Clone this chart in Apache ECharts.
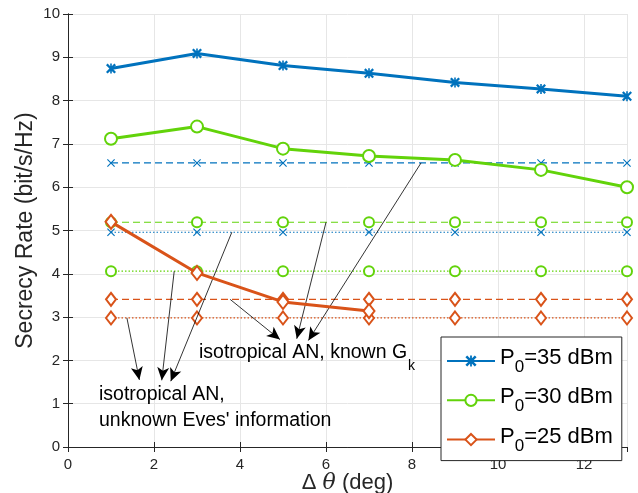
<!DOCTYPE html>
<html>
<head>
<meta charset="utf-8">
<script src="https://cdn.jsdelivr.net/npm/echarts@6/dist/echarts.min.js"></script>
<style>
html,body{margin:0;padding:0;background:#fff;}
#c{width:638px;height:493px;}
</style>
</head>
<body>
<div id="c"></div>
<script>
// ---- data ----
const xValues = [1, 3, 5, 7, 9, 11, 13];
const xValuesP25 = [1, 3, 5, 7];
const p35Proposed = [8.74, 9.09, 8.81, 8.63, 8.42, 8.27, 8.10];
const p30Proposed = [7.12, 7.40, 6.89, 6.72, 6.63, 6.40, 6.00];
const p25Proposed = [5.20, 4.02, 3.35, 3.14];
const p35KnownG = [6.56, 6.56, 6.56, 6.56, 6.56, 6.56, 6.56];
const p30KnownG = [5.19, 5.19, 5.19, 5.19, 5.19, 5.19, 5.19];
const p25KnownG = [3.41, 3.41, 3.41, 3.41, 3.41, 3.41, 3.41];
const p35Unknown = [4.96, 4.96, 4.96, 4.96, 4.96, 4.96, 4.96];
const p30Unknown = [4.06, 4.06, 4.06, 4.06, 4.06, 4.06, 4.06];
const p25Unknown = [2.98, 2.98, 2.98, 2.98, 2.98, 2.98, 2.98];
const legendNames = ['P0=35 dBm', 'P0=30 dBm', 'P0=25 dBm'];
const xTicks = [0, 2, 4, 6, 8, 10, 12];
const yTicks = [0, 1, 2, 3, 4, 5, 6, 7, 8, 9, 10];
// annotation arrows in data coordinates: [from, to]
const arrowsUnknown = [
  [[1.37, 2.98], [1.66, 1.55]],
  [[2.47, 4.06], [2.18, 1.54]],
  [[3.81, 4.96], [2.39, 1.52]]
];
const arrowsKnown = [
  [[3.77, 3.41], [4.93, 2.48]],
  [[6.00, 5.19], [5.32, 2.50]],
  [[8.21, 6.56], [5.59, 2.46]]
];
const labelKnown = 'isotropical AN, known G';
const labelKnownSub = 'k';
const labelUnknown1 = 'isotropical AN,';
const labelUnknown2 = "unknown Eves' information";

// ---- styles ----
const BLUE = '#0072BD', GREEN = '#62D30A', ORANGE = '#D95319';
const FONT = 'Liberation Sans, Arial, Helvetica, sans-serif';
const xMark = 'path://M0,1L1,0L5,4L9,0L10,1L6,5L10,9L9,10L5,6L1,10L0,9L4,5Z';
const starMark = 'path://M0,1.6L1.6,0L5,3.4L8.4,0L10,1.6L6.6,5L10,8.4L8.4,10L5,6.6L1.6,10L0,8.4L3.4,5Z M4.2,0H5.8V10H4.2Z';

function pairs(xs, ys) { return ys.map((y, i) => [xs[i], y]); }

const chart = echarts.init(document.getElementById('c'), null, {renderer: 'canvas'});

function solid(name, ys, xs, color, symbol, size) {
  const empty = symbol.indexOf('empty') === 0;
  return {
    name: name, type: 'line', data: pairs(xs, ys), color: color,
    symbol: symbol, symbolSize: size, showSymbol: true,
    lineStyle: {width: 3, color: color},
    itemStyle: {color: color, borderColor: color, borderWidth: empty ? 2.5 : 0},
    z: 5, animation: false
  };
}
function thin(name, ys, color, symbol, size, dash, bw) {
  return {
    name: name, type: 'line', data: pairs(xValues, ys), color: color,
    symbol: symbol, symbolSize: size,
    lineStyle: {width: 1.2, color: color, type: dash},
    itemStyle: {color: color, borderColor: color, borderWidth: bw},
    z: 3, animation: false
  };
}
function arrowLines(list) {
  return list.map(a => [{coord: a[0]}, {coord: a[1]}]);
}

const axisCommon = {
  axisLine: {show: true, lineStyle: {color: '#262626', width: 1}},
  axisTick: {show: true, inside: true, length: 5, lineStyle: {color: '#262626'}},
  splitLine: {show: false}
};

const option = {
  animation: false,
  backgroundColor: '#fff',
  grid: {left: 68, right: 11, top: 14, bottom: 46, containLabel: false, outerBoundsMode: 'none'},
  xAxis: [
    Object.assign({}, axisCommon, {
      type: 'value', min: 0, max: 13, interval: 2, position: 'bottom',
      axisLabel: {color: '#262626', fontSize: 15, fontFamily: FONT, margin: 10, showMaxLabel: false,
        formatter: v => xTicks.indexOf(v) >= 0 ? String(v) : ''},
      splitLine: {show: true, lineStyle: {color: '#E6E6E6', width: 1}},
      name: '{a|\u0394 }{t|\u03b8}{a| (deg)}', nameLocation: 'middle', nameGap: 25, nameMoveOverlap: false,
      nameTextStyle: {fontFamily: FONT, color: '#262626', rich: {
        a: {fontSize: 22, fontFamily: FONT, color: '#262626'},
        t: {fontSize: 22, fontFamily: 'DejaVu Serif, Liberation Serif, serif', fontStyle: 'italic', color: '#262626'}
      }}
    }),
    Object.assign({}, axisCommon, {
      type: 'value', min: 0, max: 13, interval: 2, position: 'top',
      axisLabel: {show: false}
    })
  ],
  yAxis: [
    Object.assign({}, axisCommon, {
      type: 'value', min: 0, max: 10, interval: 1, position: 'left',
      axisLabel: {color: '#262626', fontSize: 15, fontFamily: FONT, margin: 8,
        formatter: v => yTicks.indexOf(v) >= 0 ? String(v) : ''},
      splitLine: {show: true, lineStyle: {color: '#E6E6E6', width: 1}},
      name: 'Secrecy Rate (bit/s/Hz)', nameLocation: 'middle', nameGap: 31, nameMoveOverlap: false,
      nameTextStyle: {fontSize: 23, fontFamily: FONT, color: '#262626'}
    }),
    Object.assign({}, axisCommon, {
      type: 'value', min: 0, max: 10, interval: 1, position: 'right',
      axisLabel: {show: false}
    })
  ],
  legend: {
    data: legendNames,
    orient: 'vertical', left: 441, top: 337,
    backgroundColor: '#fff', borderColor: '#262626', borderWidth: 1,
    padding: [10, 9, 6, 5],
    itemWidth: 48, itemHeight: 14, itemGap: 10.3,
    formatter: n => '{b|P}{s|0}{b|' + n.slice(2) + '}',
    textStyle: {fontFamily: FONT, color: '#000', rich: {
      b: {fontSize: 22, fontFamily: FONT, color: '#000', padding: [0, 0, 6, 0]},
      s: {fontSize: 17, fontFamily: FONT, color: '#000', padding: [13, 0, 0, 0]}
    }}
  },
  series: [
    thin('p35 known', p35KnownG, BLUE, xMark, 8, [7, 4], 0),
    thin('p30 known', p30KnownG, GREEN, 'emptyCircle', 10, [7, 4], 1.2),
    thin('p25 known', p25KnownG, ORANGE, 'emptyDiamond', [10, 13], [7, 4], 1.2),
    thin('p35 unknown', p35Unknown, BLUE, xMark, 8, [1.5, 2], 0),
    thin('p30 unknown', p30Unknown, GREEN, 'emptyCircle', 10, [1.5, 2], 1.2),
    thin('p25 unknown', p25Unknown, ORANGE, 'emptyDiamond', [10, 13], [1.5, 2], 1.2),
    solid(legendNames[0], p35Proposed, xValues, BLUE, starMark, 10),
    solid(legendNames[1], p30Proposed, xValues, GREEN, 'emptyCircle', 12),
    solid(legendNames[2], p25Proposed, xValuesP25, ORANGE, 'emptyDiamond', [11, 14]),
    {
      name: 'arrows', type: 'line', data: [], z: 8, silent: true,
      markLine: {
        silent: true, symbol: ['none', 'arrow'], symbolSize: [9, 13], precision: 4,
        label: {show: false},
        lineStyle: {color: '#000', width: 0.8, type: 'solid'},
        emphasis: {disabled: true},
        data: arrowLines(arrowsUnknown).concat(arrowLines(arrowsKnown))
      }
    }
  ],
  graphic: [
    {type: 'text', left: 199, top: 343, z: 20, style: {text: labelKnown, font: '19.5px ' + FONT, fill: '#000'}},
    {type: 'text', left: 408, top: 359, z: 20, style: {text: labelKnownSub, font: '14px ' + FONT, fill: '#000'}},
    {type: 'text', left: 99, top: 385, z: 20, style: {text: labelUnknown1, font: '19.5px ' + FONT, fill: '#000'}},
    {type: 'text', left: 99, top: 411, z: 20, style: {text: labelUnknown2, font: '19.5px ' + FONT, fill: '#000'}}
  ]
};
chart.setOption(option);
</script>
</body>
</html>
